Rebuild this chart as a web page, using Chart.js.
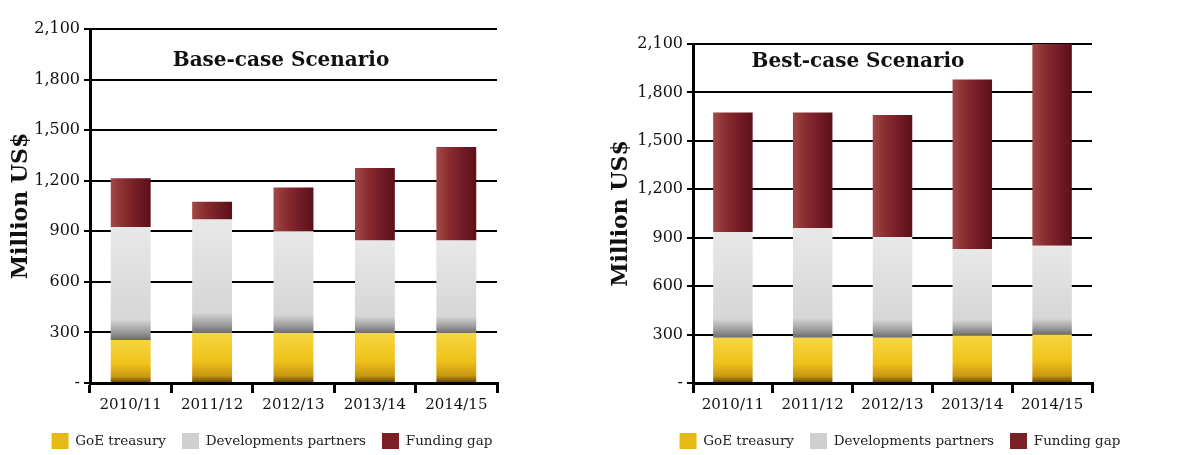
<!DOCTYPE html>
<html><head><meta charset="utf-8">
<script src="https://cdn.jsdelivr.net/npm/chart.js@4.4.1/dist/chart.umd.min.js"></script>
<style>
html,body{margin:0;padding:0;background:#fff;}
#wrap{position:relative;width:1200px;height:455px;overflow:hidden;}
.box{position:absolute;top:0;width:600px;height:455px;}
</style></head><body>
<div id="wrap">
  <div class="box" style="left:0"><canvas id="c1"></canvas></div>
  <div class="box" style="left:600px"><canvas id="c2"></canvas></div>
</div>
<script>
const categories = ['2010/11','2011/12','2012/13','2013/14','2014/15'];
const seriesNames = ['GoE treasury','Developments partners','Funding gap'];
const yTicks = [0,300,600,900,1200,1500,1800,2100];
const chartTitles = ['Base-case Scenario','Best-case Scenario'];
const yTitle = 'Million US$';

// Base-case scenario
const baseGoE = [255,295,295,295,295];
const baseDev = [670,675,605,550,550];
const baseGap = [290,105,260,430,555];

// Best-case scenario
const bestGoE = [280,280,280,295,300];
const bestDev = [655,680,625,535,550];
const bestGap = [740,715,755,1050,1250];

const FONT = '"DejaVu Serif", Georgia, serif';
const legendColors = ['#e6b914','#cfcfcf','#7a1f26'];

function fill(k){
  return function(c){
    const chart = c.chart, area = chart.chartArea;
    if(!area || c.type !== 'data' || !chart.scales.x || !chart.scales.y) return legendColors[k];
    const xs = chart.scales.x, ys = chart.scales.y, ctx = chart.ctx;
    const cx = xs.getPixelForValue(c.dataIndex);
    const half = 20;
    let g;
    if(k === 2){
      g = ctx.createLinearGradient(cx-half,0,cx+half,0);
      g.addColorStop(0,'#a04a48');
      g.addColorStop(0.3,'#8c2e32');
      g.addColorStop(0.7,'#701a24');
      g.addColorStop(1,'#5c1019');
    } else {
      let base = 0;
      for(let i=0;i<k;i++) base += chart.data.datasets[i].data[c.dataIndex];
      const top = base + chart.data.datasets[k].data[c.dataIndex];
      const y0 = ys.getPixelForValue(base), y1 = ys.getPixelForValue(top);
      g = ctx.createLinearGradient(0,y1,0,y0);
      if(k === 0){
        g.addColorStop(0,'#f6d640');
        g.addColorStop(0.55,'#efc21a');
        g.addColorStop(0.85,'#c99812');
        g.addColorStop(1,'#5e4300');
      } else {
        g.addColorStop(0,'#e8e8e8');
        g.addColorStop(0.82,'#d6d6d6');
        g.addColorStop(0.93,'#9a9a9a');
        g.addColorStop(1,'#6a6a6a');
      }
    }
    return g;
  };
}

const inTitle = {
  id:'inTitle',
  afterDraw(chart, args, opts){
    const ctx = chart.ctx;
    ctx.save();
    ctx.font = 'bold 20px ' + FONT;
    ctx.fillStyle = '#111';
    ctx.textAlign = 'center';
    ctx.textBaseline = 'middle';
    ctx.fillText(opts.text, opts.x, opts.y);
    ctx.restore();
  }
};

function makeChart(id, goe, dev, gap, cfg){
  const vals = [goe, dev, gap];
  new Chart(document.getElementById(id), {
    type:'bar',
    data:{
      labels: categories,
      datasets: vals.map((d,k)=>({
        label: seriesNames[k], data: d, yAxisID:'y',
        backgroundColor: fill(k), borderWidth:0,
        categoryPercentage:1, barPercentage:cfg.bp
      }))
    },
    options:{
      responsive:true, maintainAspectRatio:false, animation:false,
      layout:{padding:{left:8,right:cfg.padR,top:cfg.top,bottom:-4}},
      scales:{
        x:{
          stacked:true,
          grid:{display:true, drawOnChartArea:false, drawTicks:true, tickLength:10,
                color: c => c.index === categories.length ? 'rgba(0,0,0,0)' : '#000',
                lineWidth:3, offset:true},
          border:{display:true, color:'#000', width:3},
          ticks:{color:'#111', font:{family:FONT, size:15}, padding:3, maxRotation:0, autoSkip:false}
        },
        y:{
          stacked:true, min:0, max:2100,
          afterBuildTicks: s => { s.ticks = yTicks.map(v=>({value:v})); },
          afterFit: s => { s.width = cfg.yw; },
          grid:{color:'#000', lineWidth:2, tickLength:6, drawTicks:true},
          border:{display:true, color:'#000', width:3},
          ticks:{color:'#111', font:{family:FONT, size:16}, padding:4,
            callback: v => v === 0 ? '-' : Number(v).toLocaleString('en-US')},
          title:{display:true, text:yTitle, color:'#111', font:{family:FONT, size:22, weight:'bold'}, padding:0}
        },
        yR:{
          axis:'y', position:'right', display:true,
          grid:{display:false}, border:{display:false}, ticks:{display:false},
          afterFit: s => { s.width = cfg.rw; }
        }
      },
      plugins:{
        legend:{
          position:'bottom',
          labels:{
            boxWidth:17, boxHeight:16, padding:16, color:'#222',
            font:{family:FONT, size:13.5},
            generateLabels: ch => seriesNames.map((n,k)=>({
              text:n, fillStyle:legendColors[k], strokeStyle:'rgba(0,0,0,0)', lineWidth:0,
              hidden:false, datasetIndex:k, fontColor:'#222'
            }))
          }
        },
        tooltip:{enabled:false},
        inTitle:{text:cfg.title, x:cfg.tx, y:cfg.ty}
      }
    },
    plugins:[inTitle]
  });
}

makeChart('c1', baseGoE, baseDev, baseGap, {padR:64, rw:39, yw:82, top:29, bp:0.49, title:chartTitles[0], tx:281, ty:61});
makeChart('c2', bestGoE, bestDev, bestGap, {padR:8, rw:100, yw:85, top:44, bp:0.495, title:chartTitles[1], tx:258, ty:62});
</script>
</body></html>
